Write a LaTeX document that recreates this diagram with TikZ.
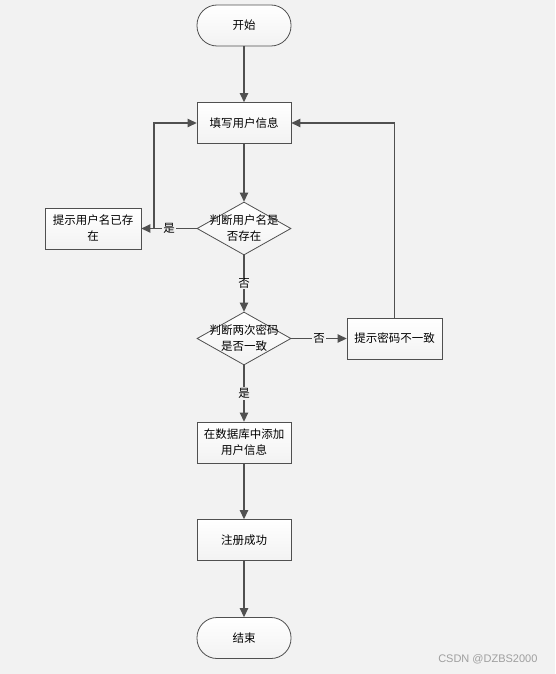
\documentclass[tikz,border=0pt]{standalone}
\usepackage{fontspec}
\newfontfamily\cjk{Noto Sans CJK SC}
\newfontfamily\wmfont{Liberation Sans}
\usetikzlibrary{shapes.geometric,arrows.meta}
\definecolor{bg}{HTML}{F2F2F2}
\definecolor{ln}{HTML}{505050}
\begin{document}
\begin{tikzpicture}[x=1pt,y=-1pt,
  box/.style={draw=ln, line width=0.8pt, minimum width=94pt, minimum height=41pt,
    top color=white, bottom color=gray!10, font=\cjk\fontsize{11.5}{16}\selectfont,
    align=center, inner sep=1pt},
  term/.style={box, rounded corners=20pt},
  dec/.style={diamond, draw=ln, line width=0.8pt, minimum width=94pt, minimum height=53pt,
    inner sep=0pt, aspect=1.77, top color=white, bottom color=gray!10},
  dtxt/.style={font=\cjk\fontsize{11.5}{16}\selectfont, align=center, inner sep=0pt},
  arr/.style={draw=ln, line width=1.2pt, -{Triangle[length=9pt,width=8.5pt]}},
  conn/.style={draw=ln, line width=1.2pt},
  lab/.style={fill=bg, inner sep=1pt, font=\cjk\fontsize{11.5}{13}\selectfont}]
\fill[bg] (0,0) rectangle (555,674);
\useasboundingbox (0,0) rectangle (555,674);

\node[term] (start) at (244,25.5) {开始};
\node[box] (fill) at (244,123) {填写用户信息};
\node[dec] (d1) at (244,228.5) {};
\node[dtxt] (d1t) at (244,228) {判断用户名是\\否存在};
\node[box, minimum width=96pt] (tip1) at (93,228.5) {提示用户名已存\\在};
\node[dec] (d2) at (244,338.5) {};
\node[dtxt] (d2t) at (244,338) {判断两次密码\\是否一致};
\node[box, minimum width=95pt] (tip2) at (394.5,338.5) {提示密码不一致};
\node[box] (db) at (244,442.5) {在数据库中添加\\用户信息};
\node[box] (ok) at (244,540) {注册成功};
\node[term] (end) at (244,638) {结束};
\node[anchor=east, text=gray!75, font=\wmfont\fontsize{11}{13}\selectfont] (wm) at (541,659) {CSDN @DZBS2000};

\coordinate (j1) at (154,228.5);

\draw[arr] (start) -- (fill);
\draw[arr] (fill) -- (d1);
\draw[arr] (d1.west) -- node[lab]{是} (tip1.east);
\draw[conn] (tip1.east) -- (j1);
\draw[arr] (j1) |- (fill.west);
\draw[arr] (d1) -- node[lab]{否} (d2);
\draw[arr] (d2.east) -- node[lab]{否} (tip2.west);
\draw[arr] (tip2.north) |- (fill.east);
\draw[arr] (d2) -- node[lab]{是} (db);
\draw[arr] (db) -- (ok);
\draw[arr] (ok) -- (end);
\end{tikzpicture}
\end{document}
